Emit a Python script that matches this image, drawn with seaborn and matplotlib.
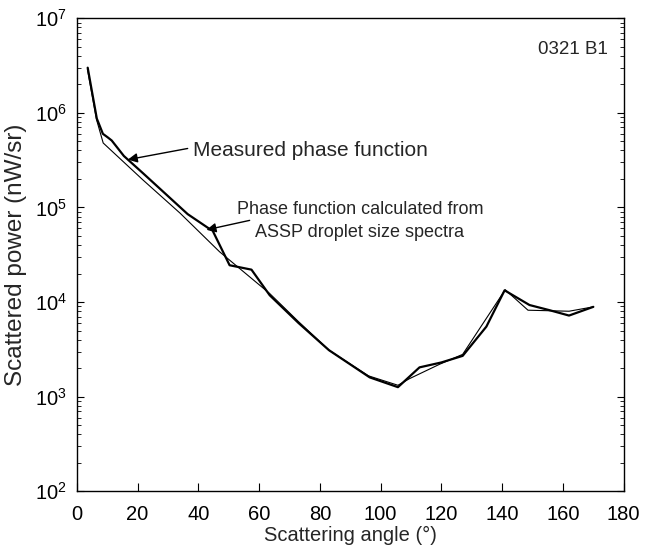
import pandas as pd
import matplotlib
matplotlib.use('Agg')
import matplotlib.pyplot as plt
import seaborn as sns
from matplotlib.ticker import LogLocator, NullFormatter, MultipleLocator

sns.set_style('ticks')
plt.rcParams['font.family'] = ['Liberation Sans', 'DejaVu Sans']
plt.rcParams['mathtext.fontset'] = 'custom'
plt.rcParams['mathtext.rm'] = 'Liberation Sans'

# Measured phase function (thicker line)
meas_angle = [3.6, 6.6, 8.6, 10.2, 11.5, 15.5, 21.8, 36.5, 43.8, 44.7, 50.3, 57.5,
              63.5, 73, 83, 96.4, 105.7, 112.8, 120, 127, 134.8, 140.8, 149,
              155.6, 162, 170]
meas_power = [3.0e6, 8.7e5, 6.0e5, 5.5e5, 5.1e5, 3.5e5, 2.3e5, 8.5e4, 5.9e4, 5.7e4,
              2.45e4, 2.2e4, 1.18e4, 6.0e3, 3.1e3, 1.6e3, 1.26e3, 2.04e3, 2.3e3,
              2.7e3, 5.5e3, 1.33e4, 9.3e3, 8.2e3, 7.2e3, 8.9e3]

# Phase function calculated from ASSP droplet size spectra (thinner line)
calc_angle = [3.5, 6.5, 8.7, 21.8, 34, 47, 63.5, 73, 83, 96, 105.7, 109.5, 119.4,
              127, 141, 148.5, 162, 170]
calc_power = [2.9e6, 8.5e5, 4.8e5, 1.95e5, 8.7e4, 3.4e4, 1.23e4, 6.2e3, 3.1e3,
              1.66e3, 1.32e3, 1.55e3, 2.2e3, 2.8e3, 1.35e4, 8.2e3, 8.0e3, 8.9e3]

meas = pd.DataFrame({'angle': meas_angle, 'power': meas_power})
calc = pd.DataFrame({'angle': calc_angle, 'power': calc_power})

fig = plt.figure(figsize=(6.45, 5.52), dpi=100)
ax = fig.add_axes([0.119, 0.11, 0.848, 0.857])

sns.lineplot(data=meas, x='angle', y='power', ax=ax, color='black',
             linewidth=1.6, sort=False, estimator=None)
sns.lineplot(data=calc, x='angle', y='power', ax=ax, color='black',
             linewidth=0.8, sort=False, estimator=None)

ax.set_yscale('log')
ax.set_xlim(0, 180)
ax.set_ylim(1e2, 1e7)
ax.xaxis.set_major_locator(MultipleLocator(20))
ax.yaxis.set_major_locator(LogLocator(base=10, numticks=10))
ax.yaxis.set_minor_locator(LogLocator(base=10, subs=range(2, 10), numticks=20))
ax.yaxis.set_minor_formatter(NullFormatter())
ax.tick_params(axis='both', which='both', direction='in', labelsize=14.5,
               colors='black')
ax.tick_params(axis='y', which='both', left=True, right=True)
ax.tick_params(axis='y', which='major', length=5, pad=7)
ax.tick_params(axis='y', which='minor', length=3)
ax.tick_params(axis='x', which='major', length=6, pad=10)
for s in ax.spines.values():
    s.set_linewidth(1.0)
    s.set_color('black')

ax.set_xlabel('Scattering angle (°)', fontsize=14.5, labelpad=1)
ax.set_ylabel('Scattered power (nW/sr)', fontsize=17.5, labelpad=6)

ax.text(0.971, 0.951, '0321 B1', transform=ax.transAxes, ha='right', va='top',
        fontsize=13.5)

ax.annotate('', xy=(16.8, 3.2e5), xytext=(36.5, 4.2e5),
            arrowprops=dict(arrowstyle='-|>', color='black', lw=1.0,
                            mutation_scale=14, shrinkA=0, shrinkB=0))
ax.text(38.2, 4.0e5, 'Measured phase function', fontsize=15, va='center',
        ha='left')

ax.annotate('', xy=(42.7, 5.8e4), xytext=(56.9, 7.3e4),
            arrowprops=dict(arrowstyle='-|>', color='black', lw=1.0,
                            mutation_scale=14, shrinkA=0, shrinkB=0))
ax.text(52.6, 7.2e4, 'Phase function calculated from\nASSP droplet size spectra',
        fontsize=13, va='center', ha='left', multialignment='center',
        linespacing=1.45)

fig.savefig('out.png', dpi=100)
